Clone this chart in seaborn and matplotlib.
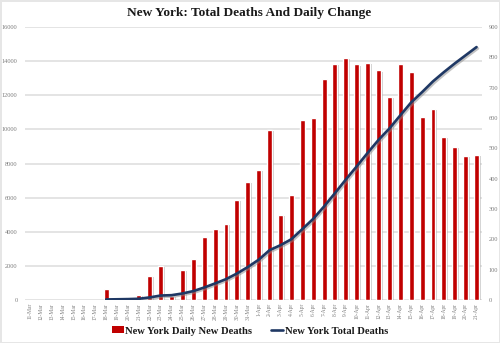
import numpy as np
import pandas as pd
import matplotlib
matplotlib.use("Agg")
import matplotlib.pyplot as plt
import matplotlib.patheffects as pe
from matplotlib.patches import Patch
from matplotlib.lines import Line2D
import seaborn as sns

dates = [f"{d}-Mar" for d in range(11, 32)] + [f"{d}-Apr" for d in range(1, 22)]
daily_new = [np.nan] * 7 + [38, 8, 11, 17, 80, 113, 14, 100, 134, 208, 235, 252, 331, 389,
                            430, 561, 282, 348, 594, 599, 730, 779, 799, 777, 783, 757,
                            671, 777, 752, 605, 629, 539, 506, 476, 479]
total_deaths = [np.nan] * 7 + [40, 50, 60, 80, 160, 270, 290, 390, 530, 740, 980, 1230, 1560,
                               1940, 2370, 2930, 3220, 3570, 4160, 4760, 5490, 6270, 7070,
                               7840, 8630, 9390, 10060, 10830, 11590, 12190, 12820, 13360,
                               13870, 14350, 14830]
left_ticks = list(range(0, 16001, 2000))
right_ticks = list(range(0, 901, 100))

title = "New York: Total Deaths And Daily Change"
bar_label = "New York Daily New Deaths"
line_label = "New York Total Deaths"

RED = "#C00000"
NAVY = "#1F3864"
GRAY = "#7F7F7F"

df = pd.DataFrame({"date": dates, "daily": daily_new, "total": total_deaths})
df["pos"] = np.arange(len(df))

sns.set_theme(style="white")
plt.rcParams["font.family"] = ["Liberation Serif", "DejaVu Serif"]

fig = plt.figure(figsize=(5.0, 3.43), dpi=100)
fig.patch.set_facecolor("white")
fig.patch.set_edgecolor("#E6E6E6")
fig.patch.set_linewidth(2)

ax = fig.add_axes([0.049, 0.125, 0.915, 0.796])
sns.barplot(data=df, x="date", y="daily", order=dates, color=RED, saturation=1,
            width=0.45, ax=ax)
for p in ax.patches:
    p.set_zorder(3)
    p.set_path_effects([pe.SimplePatchShadow(offset=(1.2, -0.8), shadow_rgbFace="#9A9A9A",
                                             alpha=0.5), pe.Normal()])

ax2 = ax.twinx()
sns.lineplot(data=df, x="pos", y="total", color=NAVY, linewidth=1.9, ax=ax2,
             path_effects=[pe.SimpleLineShadow(offset=(1, -1), shadow_color="#888888",
                                               alpha=0.5), pe.Normal()])

# bar axis (right scale)
ax.set_ylim(0, 900)
ax.yaxis.tick_right()
ax.set_yticks(right_ticks)
ax.grid(False)
# horizontal gridlines aligned with the left (total deaths) scale, drawn behind the bars
for t in left_ticks:
    ax.axhline(t / 16000 * 900, color="#DCDCDC", linewidth=1.1, zorder=1)
ax.tick_params(axis="y", which="major", labelsize=4.6, labelcolor=GRAY, length=0, pad=5,
               left=False, labelleft=False, right=True, labelright=True)
ax.tick_params(axis="x", labelsize=4.0, labelcolor=GRAY, length=0, pad=2)
for lab in ax.get_xticklabels():
    lab.set_rotation(90)
    lab.set_va("top")
    lab.set_ha("center")
ax.set_xlim(-0.5, len(dates) - 0.5)
ax.set_xlabel("")
ax.set_ylabel("")
for s in ax.spines.values():
    s.set_visible(False)

# line axis (left scale)
ax2.set_ylim(0, 16000)
ax2.yaxis.tick_left()
ax2.set_yticks(left_ticks)
ax2.tick_params(axis="y", labelsize=4.6, labelcolor=GRAY, length=0, pad=5,
                left=True, labelleft=True, right=False, labelright=False)
ax2.set_xlim(-0.5, len(dates) - 0.5)
ax2.set_xlabel("")
ax2.set_ylabel("")
ax2.grid(False)
for s in ax2.spines.values():
    s.set_visible(False)

fig.text(0.498, 0.963, title, ha="center", va="center", fontsize=9.6,
         fontweight="bold", color="#1A1A1A")

handles = [Patch(facecolor=RED, edgecolor="none"),
           Line2D([0], [0], color=NAVY, linewidth=1.9)]
fig.legend(handles, [bar_label, line_label], loc="center", bbox_to_anchor=(0.5, 0.035),
           ncol=2, frameon=False, prop={"weight": "bold", "size": 7.6},
           handlelength=1.1, handleheight=0.6, handletextpad=0.15, columnspacing=1.8,
           labelcolor="#1A1A1A")

fig.savefig("out.png", dpi=100, facecolor=fig.get_facecolor(), edgecolor=fig.get_edgecolor())
